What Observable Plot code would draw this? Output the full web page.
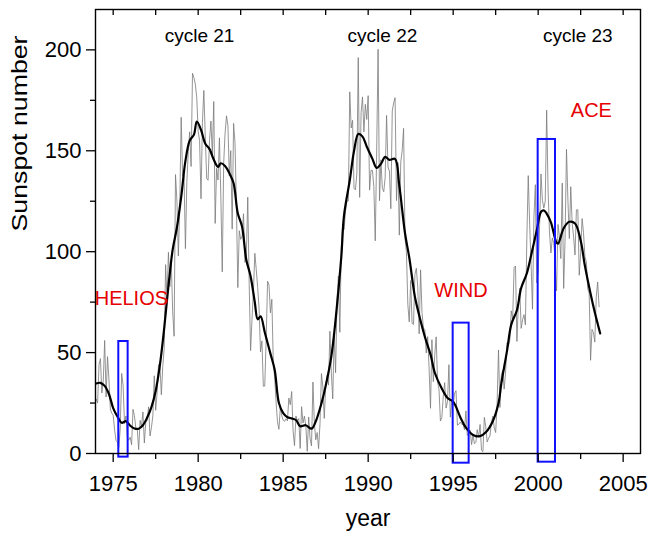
<!DOCTYPE html>
<html><head><meta charset="utf-8">
<script src="https://cdn.jsdelivr.net/npm/d3@7"></script>
<script src="https://cdn.jsdelivr.net/npm/@observablehq/plot@0.6"></script>
<style>
body{margin:0;background:#fff;}
#chart svg{display:block;}
</style></head><body><div id="chart"></div>
<script>
// ---- data ----
const startYear = 1974; // first month: Jan 1974
const monthlySunspots = [
  27, 25, 44, 47, 30, 36, 56, 28, 48, 37, 22, 20,
  18.9, 11.7, 6.5, 5.5, 3.0, 12.8, 39.7, 33.6, 14.8, 18.6, 7.6, 6.6,
  8.1, 4.3, 21.9, 18.8, 12.4, 12.2, 1.9, 16.4, 13.5, 20.6, 5.2, 15.3,
  16.4, 23.1, 8.7, 12.9, 18.6, 38.5, 21.4, 30.1, 44.0, 43.8, 29.1, 43.2,
  51.9, 93.6, 76.5, 99.7, 82.7, 95.1, 70.4, 58.1, 138.2, 125.1, 97.9, 122.7,
  166.6, 137.5, 138.0, 101.5, 134.4, 149.5, 159.4, 142.2, 188.4, 186.2, 183.0, 176.3,
  159.6, 155.0, 126.2, 164.1, 179.9, 157.3, 136.3, 135.4, 155.0, 164.7, 147.9, 174.4,
  114.0, 141.3, 135.5, 156.4, 127.5, 90.0, 143.8, 158.7, 167.3, 162.4, 137.5, 150.1,
  111.2, 163.6, 153.8, 122.0, 82.2, 110.4, 106.1, 107.6, 118.8, 94.7, 98.1, 127.0,
  84.3, 51.0, 66.5, 80.7, 99.2, 91.1, 82.2, 71.8, 50.3, 55.8, 33.3, 33.4,
  57.0, 85.4, 83.5, 69.7, 76.4, 46.1, 37.4, 25.5, 15.7, 12.0, 22.8, 18.7,
  16.5, 15.9, 17.2, 16.2, 27.5, 24.2, 30.7, 11.1, 3.9, 18.6, 16.2, 17.3,
  2.5, 23.2, 15.1, 18.5, 13.7, 1.1, 18.1, 7.4, 3.8, 35.4, 15.2, 6.8,
  10.4, 2.4, 14.7, 39.6, 33.0, 17.4, 33.0, 38.7, 33.9, 60.6, 39.9, 27.1,
  59.0, 40.0, 76.2, 88.0, 60.1, 101.8, 113.8, 111.0, 120.1, 125.1, 125.1, 179.2,
  161.3, 165.1, 131.4, 130.6, 138.5, 196.2, 126.9, 168.9, 176.7, 159.4, 173.0, 165.5,
  177.3, 130.5, 140.3, 140.3, 132.2, 105.4, 149.4, 200.3, 125.2, 145.5, 131.4, 129.7,
  136.9, 167.5, 141.9, 140.0, 121.3, 169.7, 173.7, 176.3, 125.3, 144.1, 108.2, 144.4,
  150.0, 161.1, 106.7, 99.8, 73.8, 65.2, 85.7, 64.5, 63.9, 88.7, 91.8, 82.6,
  59.3, 91.0, 69.8, 62.2, 61.3, 49.8, 57.9, 42.2, 22.4, 56.4, 35.6, 48.9,
  57.8, 35.5, 31.7, 16.1, 17.8, 28.0, 35.1, 22.5, 25.7, 44.0, 18.0, 26.2,
  24.2, 29.9, 31.1, 14.0, 14.5, 15.6, 14.5, 14.3, 11.8, 21.1, 9.0, 10.0,
  11.5, 4.4, 9.2, 4.8, 5.5, 11.8, 8.2, 14.4, 1.6, 0.9, 17.9, 13.3,
  5.7, 7.6, 8.7, 15.5, 18.5, 12.7, 10.4, 24.4, 51.3, 22.8, 39.0, 41.2,
  31.9, 40.3, 54.8, 53.4, 56.3, 70.7, 66.6, 92.2, 92.9, 55.5, 74.0, 81.9,
  62.0, 66.3, 68.8, 63.7, 106.4, 137.7, 113.5, 93.7, 71.5, 116.7, 133.2, 84.6,
  90.1, 112.9, 138.5, 125.5, 121.6, 124.9, 170.1, 130.5, 109.7, 99.4, 106.8, 104.4,
  95.6, 80.6, 113.5, 107.7, 96.6, 134.0, 81.8, 106.4, 150.7, 125.5, 106.5, 132.2,
  114.1, 107.4, 98.4, 120.7, 120.8, 88.3, 99.6, 116.4, 109.6, 97.5, 95.0, 81.6,
  79.5, 46.2, 61.5, 60.0, 55.2, 77.4, 85.0, 72.7
];

const smoothYears = [
  1974.00, 1974.25, 1974.50, 1974.75, 1975.00, 1975.25, 1975.50, 1975.75,
  1976.00, 1976.25, 1976.50, 1976.75, 1977.00, 1977.25, 1977.50, 1977.75,
  1978.00, 1978.25, 1978.50, 1978.75, 1979.00, 1979.25, 1979.50, 1979.75,
  1979.92, 1980.17, 1980.42, 1980.67, 1980.92, 1981.17, 1981.33, 1981.58,
  1981.83, 1982.08, 1982.33, 1982.58, 1982.83, 1983.08, 1983.33, 1983.50,
  1983.67, 1983.92, 1984.25, 1984.50, 1984.75, 1985.00, 1985.25, 1985.50,
  1985.75, 1986.00, 1986.33, 1986.67, 1986.92, 1987.25, 1987.50, 1987.83,
  1988.08, 1988.42, 1988.58, 1988.92, 1989.17, 1989.42, 1989.67, 1989.92,
  1990.25, 1990.50, 1990.75, 1991.00, 1991.25, 1991.58, 1991.83, 1992.17,
  1992.42, 1992.75, 1993.00, 1993.33, 1993.67, 1993.92, 1994.33, 1994.67,
  1995.00, 1995.42, 1995.75, 1996.17, 1996.58, 1996.92, 1997.33, 1997.67,
  1997.83, 1998.17, 1998.42, 1998.75, 1999.00, 1999.33, 1999.58, 1999.92,
  2000.17, 2000.33, 2000.50, 2000.75, 2001.08, 2001.17, 2001.50, 2001.83,
  2002.17, 2002.50, 2002.75, 2003.08, 2003.33, 2003.65
];
const smoothValues = [
  34.7, 35.0, 33.5, 29.5, 22.5, 18.3, 15.2, 16.0,
  13.8, 12.4, 12.3, 14.0, 17.8, 23.0, 31.0, 44.0,
  62.0, 83.0, 101.0, 112.0, 127.0, 145.0, 155.0, 158.0,
  164.5, 160.3, 153.5, 150.8, 145.5, 142.0, 143.8, 142.5,
  139.0, 134.0, 119.0, 112.5, 96.0, 88.0, 75.0, 66.5,
  68.0, 60.0, 49.5, 41.5, 25.0, 20.0, 18.0, 17.4,
  16.6, 13.5, 14.0, 12.3, 16.0, 24.8, 33.5, 48.0,
  66.0, 97.5, 118.0, 135.5, 150.0, 158.3, 157.0, 152.0,
  146.0, 141.5, 143.5, 147.0, 145.5, 146.0, 133.0, 109.0,
  97.0, 77.6, 68.5, 58.0, 49.0, 40.0, 32.2, 27.5,
  25.7, 18.0, 12.8, 9.2, 8.6, 10.5, 16.0, 25.0,
  34.5, 51.0, 64.0, 71.0, 82.0, 89.2, 98.0, 110.7,
  119.8, 120.5, 118.9, 114.5, 104.5, 104.0, 111.6, 114.8,
  114.0, 105.5, 93.0, 79.3, 70.0, 59.5
];

const yearTicks = [1975, 1980, 1985, 1990, 1995, 2000, 2005];
const yearMinorTicks = [1977.5, 1982.5, 1987.5, 1992.5, 1997.5, 2002.5];
const valueTicks = [0, 50, 100, 150, 200];
const valueMinorTicks = [25, 75, 125, 175];

const cycleNames = ["cycle 21", "cycle 22", "cycle 23"];
const cycleYears = [1980.08, 1990.84, 2002.33];
const cycleLevels = [204, 204, 204];

const missionNames = ["HELIOS", "WIND", "ACE"];
const missionStart = [1975.33, 1995.0, 2000.0];
const missionEnd = [1975.88, 1995.94, 2001.02];
const missionTop = [55.5, 64.6, 155.6];
const missionBottom = [-1.8, -4.8, -4.3];
const missionLabelYears = [1976.07, 1995.46, 2003.13];
const missionLabelLevels = [73.4, 77.5, 166.8];

// ---- tables built from the arrays ----
const raw = monthlySunspots.map((v, i) => ({t: startYear + i / 12, v}));
const smooth = smoothYears.map((t, i) => ({t, v: smoothValues[i]}));
const cycles = cycleNames.map((name, i) => ({name, t: cycleYears[i], v: cycleLevels[i]}));
const missions = missionNames.map((name, i) => ({
  name, x1: missionStart[i], x2: missionEnd[i], y1: missionBottom[i], y2: missionTop[i],
  lt: missionLabelYears[i], lv: missionLabelLevels[i]
}));
const topTicks = [...yearTicks, ...yearMinorTicks];

const W = 652, H = 537, mT = 9, mB = 84, mL = 95, mR = 12;
const font = "'Liberation Sans', Arial, Helvetica, sans-serif";

const chart = Plot.plot({
  width: W, height: H,
  marginTop: mT, marginBottom: mB, marginLeft: mL, marginRight: mR,
  style: {fontFamily: font, fontSize: "22px", color: "black", background: "white"},
  x: {domain: [1973.96, 2006.02]},
  y: {domain: [0, 220]},
  marks: [
    Plot.line(raw, {x: "t", y: "v", stroke: "#7a7a7a", strokeWidth: 0.8}),
    Plot.line(smooth, {x: "t", y: "v", stroke: "black", strokeWidth: 2.2, curve: "catmull-rom"}),
    Plot.rect(missions, {x1: "x1", x2: "x2", y1: "y1", y2: "y2", fill: "none", stroke: "#1010ff", strokeWidth: 2}),
    Plot.text(cycles, {x: "t", y: "v", text: "name", fontSize: 19, lineAnchor: "bottom", fill: "black"}),
    Plot.text(missions, {x: "lt", y: "lv", text: "name", fontSize: 20, lineAnchor: "bottom", fill: "#e60000"}),
    Plot.frame({stroke: "black", strokeWidth: 1.4}),
    Plot.axisX({ticks: yearTicks, tickSize: 9, tickPadding: 13, tickFormat: d => String(d), fontSize: 22, label: null, strokeWidth: 1.3}),
    Plot.axisX({ticks: yearMinorTicks, tickSize: 6, tickFormat: () => "", label: null, strokeWidth: 1.3}),
    Plot.ruleX(topTicks, {x: d => d, insetBottom: H - mT - mB - 6, stroke: "black", strokeWidth: 1.3}),
    Plot.axisY({ticks: valueTicks, tickSize: 9, tickPadding: 5, fontSize: 22, label: null, strokeWidth: 1.3}),
    Plot.axisY({ticks: valueMinorTicks, tickSize: 5, tickFormat: () => "", label: null, strokeWidth: 1.3}),
    Plot.text(["Sunspot number"], {frameAnchor: "left", rotate: -90, dx: -76, fontSize: 22, fill: "black"}),
    Plot.text(["year"], {frameAnchor: "bottom", dy: 72, fontSize: 23, fill: "black"})
  ]
});
d3.select(chart).selectAll("text").filter(function(){ return this.textContent === "Sunspot number"; })
  .attr("textLength", 196).attr("lengthAdjust", "spacingAndGlyphs");
document.getElementById("chart").appendChild(chart);
</script></body></html>
